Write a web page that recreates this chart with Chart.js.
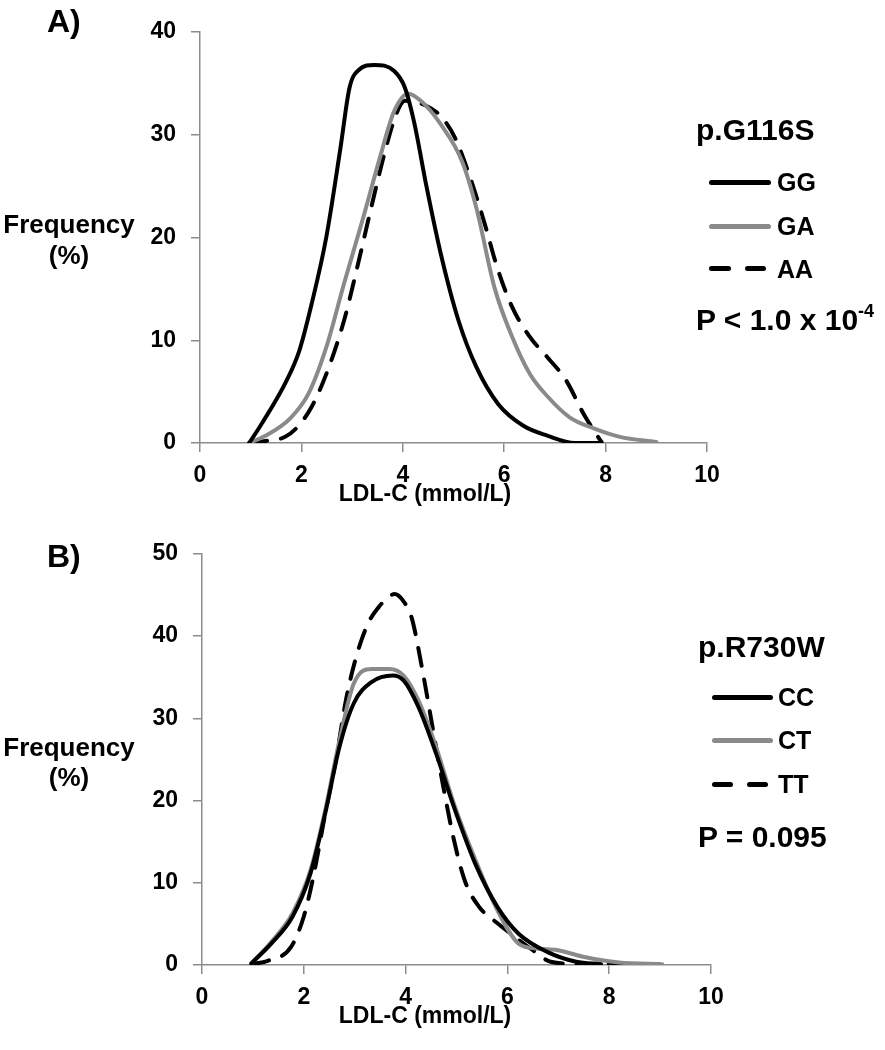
<!DOCTYPE html>
<html>
<head>
<meta charset="utf-8">
<script src="https://cdn.jsdelivr.net/npm/chart.js@4.4.1/dist/chart.umd.min.js"></script>
<style>
  body { margin: 0; background: #fff; width: 885px; height: 1050px; position: relative; overflow: hidden;
         font-family: 'Liberation Sans', Arial, sans-serif; font-weight: bold; color: #000; }
  canvas { position: absolute; left: 0; }
  .t { position: absolute; white-space: nowrap; line-height: 1; }
  .ln { position: absolute; height: 5px; border-radius: 3px; background: #000; }
  .gray { background: #8a8a8a; }
  sup { font-size: 60%; vertical-align: 0.7em; line-height: 0; }
</style>
</head>
<body>
<canvas id="chartA" width="885" height="525" style="top:0"></canvas>
<canvas id="chartB" width="885" height="525" style="top:525px"></canvas>

<div class="t" style="left:47px;top:5px;font-size:32px">A)</div>
<div class="t" style="left:47px;top:540px;font-size:32px">B)</div>

<div class="t" style="left:2px;top:211px;font-size:26px;width:134px;text-align:center">Frequency</div>
<div class="t" style="left:2px;top:242px;font-size:26px;width:134px;text-align:center">(%)</div>
<div class="t" style="left:2px;top:734px;font-size:26px;width:134px;text-align:center">Frequency</div>
<div class="t" style="left:2px;top:764px;font-size:26px;width:134px;text-align:center">(%)</div>

<div class="t" style="left:325px;top:482px;font-size:23px;width:200px;text-align:center">LDL-C (mmol/L)</div>
<div class="t" style="left:325px;top:1004px;font-size:23px;width:200px;text-align:center">LDL-C (mmol/L)</div>

<!-- legend A -->
<div class="t" style="left:696px;top:115px;font-size:30px">p.G116S</div>
<div class="ln" style="left:709px;top:180px;width:62px"></div>
<div class="t" style="left:777px;top:170px;font-size:25px">GG</div>
<div class="ln gray" style="left:709px;top:224px;width:62px"></div>
<div class="t" style="left:777px;top:214px;font-size:25px">GA</div>
<div class="ln" style="left:709px;top:266px;width:22px"></div>
<div class="ln" style="left:745px;top:266px;width:21px"></div>
<div class="t" style="left:777px;top:257px;font-size:25px">AA</div>
<div class="t" style="left:696px;top:305px;font-size:30px">P &lt; 1.0 x 10<sup>-4</sup></div>

<!-- legend B -->
<div class="t" style="left:698px;top:632px;font-size:30px">p.R730W</div>
<div class="ln" style="left:712px;top:695px;width:61px"></div>
<div class="t" style="left:778px;top:685px;font-size:25px">CC</div>
<div class="ln gray" style="left:712px;top:738px;width:61px"></div>
<div class="t" style="left:778px;top:728px;font-size:25px">CT</div>
<div class="ln" style="left:712px;top:782px;width:21px"></div>
<div class="ln" style="left:747px;top:782px;width:21px"></div>
<div class="t" style="left:778px;top:772px;font-size:25px">TT</div>
<div class="t" style="left:698px;top:822px;font-size:30px">P = 0.095</div>

<script>
// panel A : p.G116S
const ggX = [0.97, 1.22, 1.71, 1.96, 2.2, 2.49, 2.77, 2.95, 3.13, 3.44, 3.83, 4.04, 4.22, 4.47, 4.75, 5.1, 5.45, 5.88, 6.37, 6.86, 7.39, 7.9];
const ggY = [0, 1.9, 6.1, 9, 13.5, 20, 28.7, 34.6, 36.3, 36.8, 36.2, 34.6, 31.3, 24.9, 18.4, 11.9, 7.4, 3.8, 1.7, 0.7, 0, 0];
const gaX = [0.97, 1.29, 1.78, 2.14, 2.49, 2.84, 3.2, 3.55, 3.83, 4.11, 4.4, 4.75, 5.17, 5.45, 5.81, 6.16, 6.51, 6.86, 7.29, 7.78, 8.28, 9.0];
const gaY = [0, 0.7, 2.4, 4.8, 9.3, 15.5, 21.6, 27.8, 32.3, 34, 33.1, 31, 27.4, 22.9, 15.1, 10.3, 6.7, 4.5, 2.5, 1.4, 0.6, 0.1];
const aaX = [0.97, 1.29, 1.68, 1.93, 2.2, 2.49, 2.84, 3.13, 3.41, 3.65, 3.87, 4.04, 4.43, 4.75, 5.03, 5.31, 5.6, 5.88, 6.16, 6.51, 6.86, 7.22, 7.57, 7.85, 7.92];
const aaY = [0, 0.2, 0.6, 1.6, 3.5, 6.7, 11.9, 17.7, 23.6, 28.4, 32, 33.3, 32.9, 31.8, 29.7, 26.1, 21.6, 16.8, 13.2, 10.3, 8.3, 6.1, 2.8, 0.6, 0.1];

// panel B : p.R730W
const ccX = [0.97, 1.36, 1.78, 2.13, 2.42, 2.7, 2.98, 3.33, 3.75, 3.96, 4.25, 4.6, 4.95, 5.37, 5.8, 6.22, 6.78, 7.35, 7.84];
const ccY = [0.2, 2.6, 5.9, 11.1, 18.4, 26.5, 31.8, 34.4, 35.2, 34.6, 31.4, 25.7, 19.2, 12.3, 7.1, 3.8, 1.6, 0.4, 0.1];
const ctX = [0.97, 1.36, 1.78, 2.13, 2.42, 2.7, 2.98, 3.33, 3.68, 3.96, 4.25, 4.6, 4.95, 5.37, 5.8, 6.22, 6.57, 6.99, 7.49, 8.19, 9.04];
const ctY = [0.2, 2.8, 6.3, 11.5, 18.8, 27.3, 34.2, 36, 36, 35.2, 32.2, 26.5, 19.6, 12.8, 6.7, 2.6, 2.0, 1.8, 1.0, 0.3, 0.1];
const ttX = [0.97, 1.29, 1.75, 2.0, 2.2, 2.42, 2.63, 2.84, 3.05, 3.26, 3.47, 3.62, 3.78, 3.95, 4.12, 4.32, 4.53, 4.74, 4.95, 5.16, 5.44, 5.8, 6.15, 6.5, 6.85, 7.49, 9.04];
const ttY = [0.1, 0.5, 2.2, 5.9, 11.1, 18.4, 24.9, 32.6, 37.9, 41.5, 43.5, 44.5, 45.1, 44.3, 42.2, 36.2, 28.9, 21.7, 15.2, 10.3, 7.1, 5.1, 3.4, 1.8, 0.4, 0.1, 0.1];

const xTicks = [0, 2, 4, 6, 8, 10];

Chart.defaults.font.family = "'Liberation Sans', Arial, sans-serif";
Chart.defaults.font.weight = 'bold';
Chart.defaults.color = '#000';

function pts(xs, ys) {
    return xs.map(function (x, i) { return {x: x, y: ys[i]}; });
}

function series(label, xs, ys, color, dashed) {
    return {
        label: label,
        data: pts(xs, ys),
        borderColor: color,
        borderWidth: 4,
        borderDash: dashed ? [18, 14] : [],
        borderCapStyle: 'round',
        borderJoinStyle: 'round',
        pointRadius: 0,
        cubicInterpolationMode: 'monotone',
        fill: false
    };
}

function makeChart(id, datasets, yMax, pad) {
    const axisGrid = {drawOnChartArea: false, drawTicks: true, tickLength: 9, color: '#8c8c8c', lineWidth: 1.5};
    return new Chart(id, {
        type: 'line',
        data: {datasets: datasets},
        options: {
            responsive: false,
            animation: false,
            layout: {padding: pad},
            plugins: {legend: {display: false}, tooltip: {enabled: false}},
            scales: {
                x: {
                    type: 'linear', min: 0, max: 10,
                    afterBuildTicks: function (s) { s.ticks = xTicks.map(function (v) { return {value: v}; }); },
                    afterFit: function (s) { s.height = 50; },
                    grid: axisGrid,
                    border: {color: '#8c8c8c', width: 1.5},
                    ticks: {font: {size: 23}, padding: 10, maxRotation: 0}
                },
                y: {
                    min: 0, max: yMax,
                    afterFit: function (s) { s.width = 60; },
                    grid: axisGrid,
                    border: {color: '#8c8c8c', width: 1.5},
                    ticks: {font: {size: 23}, padding: 15, stepSize: 10}
                }
            }
        }
    });
}

makeChart('chartA', [
    series('GG', ggX, ggY, '#000', false),
    series('GA', gaX, gaY, '#8a8a8a', false),
    series('AA', aaX, aaY, '#000', true)
], 40, {left: 140, right: 178, top: 32, bottom: 32});

makeChart('chartB', [
    series('CC', ccX, ccY, '#000', false),
    series('CT', ctX, ctY, '#8a8a8a', false),
    series('TT', ttX, ttY, '#000', true)
], 50, {left: 142, right: 174, top: 28, bottom: 35});
</script>
</body>
</html>
